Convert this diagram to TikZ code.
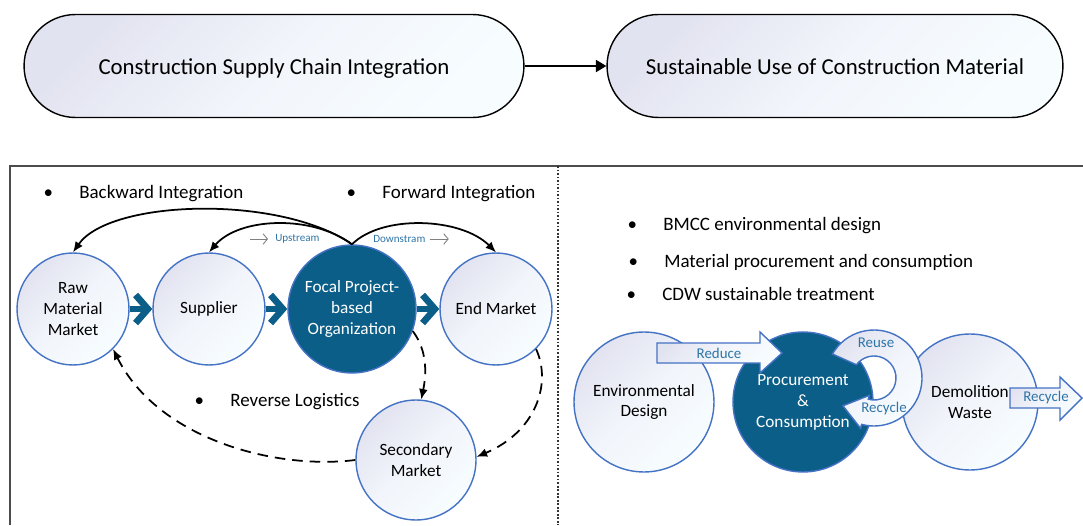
\documentclass[tikz,border=0pt]{standalone}
\usepackage{fontspec}
\setmainfont{Carlito}
\usepackage{tikz}
\usetikzlibrary{arrows.meta, shapes.geometric, calc}

\definecolor{focalblue}{RGB}{11,94,135}
\definecolor{rimblue}{RGB}{68,114,196}
\definecolor{tagblue}{RGB}{46,117,168}
\definecolor{fadeA}{RGB}{226,227,240}
\definecolor{fadeM}{RGB}{242,245,251}
\definecolor{fadeB}{RGB}{247,253,255}

\newcommand{\bitem}[1]{\llap{\textbullet\hspace{15pt}}#1}

\tikzset{
    soft/.style={left color=fadeA, right color=fadeB, middle color=fadeM, shading angle=45},
    goal/.style={rectangle, rounded corners=1.03cm, draw=black, line width=0.8pt, soft,
        minimum height=2.06cm, text height=13pt, text depth=3pt, font=\fontsize{13}{15}\selectfont},
    orb/.style={circle, draw=rimblue, line width=0.8pt, align=center, inner sep=0pt,
        font=\fontsize{9.8}{11.9}\selectfont},
    stage/.style={orb, soft},
    hub/.style={orb, fill=focalblue, text=white},
    flow/.style={draw=focalblue, line width=3.8pt, -{Straight Barb[length=7pt, width=16pt]}},
    swing/.style={line width=1pt, -{Latex[length=6pt, width=5pt]}},
    backflow/.style={line width=1pt, dash pattern=on 6pt off 4pt, -{Latex[length=6pt, width=5pt]}},
    blockarrow/.style={draw=rimblue, line width=0.8pt, soft},
    tag/.style={text=tagblue, font=\fontsize{8.5}{10}\selectfont, inner sep=0pt},
    stream/.style={text=tagblue, font=\fontsize{6.3}{8}\selectfont, inner sep=0pt},
    pointer/.style={draw=gray, line width=0.5pt, -{Straight Barb[length=2.5pt, width=6pt]}},
    bulletitem/.style={anchor=west, inner sep=0pt, font=\fontsize{10.8}{13}\selectfont}
}

\begin{document}
\begin{tikzpicture}[x=0.02cm, y=0.02cm]
    \useasboundingbox (0,0) rectangle (1083,525);

    % Top row
    \node[goal, minimum width=10cm] (csci) at (274,459) {Construction Supply Chain Integration};
    \node[goal, minimum width=9.12cm] (sucm) at (835,459) {Sustainable Use of Construction Material};
    \draw[line width=0.9pt, -{Triangle[length=6pt, width=7pt]}] (csci) -- (sucm);

    % Panel frame and divider
    \draw[line width=1.1pt, black!70] (10,0) |- (1083,359);
    \draw[line width=1pt, black!80, densely dotted] (558,359) -- (558,0);

    % Supply chain circles
    \node[stage, minimum size=2.24cm] (raw) at (73,216) {Raw\\Material\\Market};
    \node[stage, minimum size=2.24cm] (sup) at (209,216) {Supplier};
    \node[hub, minimum size=2.56cm] (focal) at (352,216) {Focal Project-\\based\\Organization};
    \node[stage, minimum size=2.24cm] (endm) at (496,216) {End Market};
    \node[stage, minimum size=2.4cm] (second) at (416,65) {Secondary\\Market};

    \draw[flow] (raw) -- (sup);
    \draw[flow] (sup) -- (focal);
    \draw[flow] (focal) -- (endm);

    % Integration arcs
    \draw[swing] (focal.north) .. controls +(-72,50) and +(37,53) .. (raw.north);
    \draw[swing] (focal.north) .. controls +(-40,30) and +(30,35) .. (sup.north);
    \draw[swing] (focal.north) .. controls +(30,30) and +(-35,35) .. (endm.north);

    \node[stream, anchor=west] (up) at (275,286) {Upstream};
    \node[stream, anchor=west] (down) at (373,286) {Downstram};
    \draw[pointer] ($(up.west)+(-25,0)$) -- ($(up.west)+(-7,0)$);
    \draw[pointer] ($(down.east)+(4,0)$) -- ($(down.east)+(23,0)$);

    % Reverse logistics
    \draw[backflow] (focal.-20) .. controls +(15,-20) and +(5,25) .. (second.85);
    \draw[backflow] (endm.-45) .. controls +(16,-35) and +(59,25) .. (second.3);
    \draw[backflow] (second.180) .. controls +(-80,-10) and +(45,-90) .. (raw.-45);

    \node[bulletitem] (bwd) at (79,331) {\bitem{Backward Integration}};
    \node[bulletitem] (fwd) at (382,331) {\bitem{Forward Integration}};
    \node[bulletitem] (rev) at (230,123) {\bitem{Reverse Logistics}};

    % Material use circles
    \node[stage, minimum size=2.8cm] (envd) at (644,123) {Environmental\\Design};
    \node[hub, minimum size=2.8cm] (proc) at (803,123) {Procurement\\\&\\Consumption};
    \node[stage, minimum size=2.72cm] (demo) at (970,123) {Demolition\\Waste};

    % Block arrows
    \draw[blockarrow] (657,162) -- (760,162) -- (760,152) -- (782,172) -- (760,193)
        -- (760,182) -- (657,182) -- cycle;
    \node[tag] (reduce) at (719,172) {Reduce};
    \draw[blockarrow] (1010,117) -- (1060,117) -- (1060,105) -- (1082,127) -- (1060,148)
        -- (1060,137) -- (1010,137) -- cycle;
    \node[tag] (recycleout) at (1046,127) {Recycle};

    % Reuse / recycle loop
    \coordinate (ring) at (874,147);
    \draw[blockarrow] ($(ring)+(150:48)$) arc[start angle=150, end angle=-105, radius=48]
        -- ($(ring)+(-105:52)$) -- ($(ring)+(-105:35)+(-22,6)$) -- ($(ring)+(-105:18)$)
        -- ($(ring)+(-105:22)$) arc[start angle=-105, end angle=143, radius=22] -- cycle;
    \node[tag] (reuse) at (876,182) {Reuse};
    \node[tag] (recyclein) at (884,116) {Recycle};

    \node[bulletitem] (bmcc) at (663,299) {\bitem{BMCC environmental design}};
    \node[bulletitem] (mpc) at (664,263) {\bitem{Material procurement and consumption}};
    \node[bulletitem] (cdw) at (662,231) {\bitem{CDW sustainable treatment}};
\end{tikzpicture}
\end{document}
